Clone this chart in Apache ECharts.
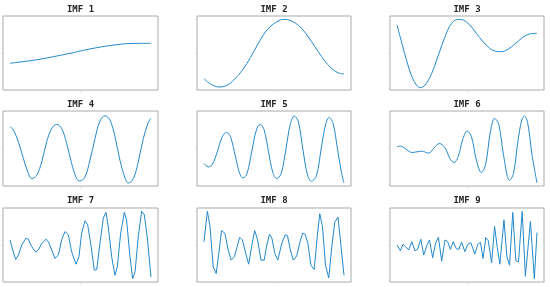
<!DOCTYPE html>
<html>
<head>
<meta charset="utf-8">
<script src="https://cdn.jsdelivr.net/npm/echarts@6/dist/echarts.min.js"></script>
<style>html,body{margin:0;padding:0;background:#fff}#c{width:550px;height:287px}</style>
</head>
<body>
<div id="c"></div>
<script>
const titles = ['IMF 1','IMF 2','IMF 3','IMF 4','IMF 5','IMF 6','IMF 7','IMF 8','IMF 9'];

const imf1 = [[0,-0.279],[7.1,-0.243],[16.5,-0.198],[26,-0.135],[35.5,-0.063],[44.9,0.009],[52,0.072],[61.5,0.144],[68.6,0.189],[75.7,0.225],[82.7,0.252],[92.2,0.261],[100,0.261]];
const imf2 = [[0,-0.694],[4.7,-0.838],[10.6,-0.919],[16.5,-0.874],[21.3,-0.73],[26,-0.532],[30.7,-0.279],[35.5,0.036],[40.2,0.351],[44.9,0.622],[49.6,0.784],[54.4,0.892],[57.9,0.91],[62.6,0.865],[67.4,0.748],[72.1,0.559],[76.8,0.306],[81.6,0.036],[86.3,-0.216],[91,-0.414],[95.7,-0.532],[100,-0.568]];
const imf3 = [[0,0.757],[3.5,0.261],[7.1,-0.234],[10.6,-0.64],[14.2,-0.883],[16.5,-0.937],[20.1,-0.865],[24.8,-0.55],[29.6,-0.054],[34.3,0.441],[39,0.802],[43.7,0.91],[47.3,0.892],[52,0.757],[56.7,0.532],[61.5,0.306],[66.2,0.126],[70.9,0.045],[74.5,0.036],[79.2,0.099],[83.9,0.234],[89.8,0.423],[94.6,0.514],[100,0.532]];
const imf4 = [[0,0.58],[2.4,0.491],[5.9,0.179],[9.5,-0.268],[13,-0.67],[15.4,-0.804],[18.9,-0.714],[22.5,-0.357],[26,0.179],[29.6,0.536],[33.1,0.643],[36.6,0.536],[40.2,0.134],[43.7,-0.402],[47.3,-0.804],[49.6,-0.866],[53.2,-0.759],[56.7,-0.313],[60.3,0.268],[63.8,0.732],[67.4,0.875],[70.9,0.759],[74.5,0.313],[78,-0.313],[81.6,-0.786],[83.9,-0.92],[87.5,-0.804],[91,-0.357],[94.6,0.268],[98.1,0.696],[100,0.804]];
const imf5 = [[0,-0.402],[3.1,-0.491],[5.9,-0.429],[9.5,-0.089],[13,0.313],[16.1,0.429],[18.9,0.313],[22.5,-0.223],[25.5,-0.67],[27.9,-0.786],[30.7,-0.67],[34.3,-0.045],[37.4,0.491],[40.2,0.643],[43,0.491],[46.1,-0.089],[49.2,-0.643],[52,-0.804],[55.1,-0.67],[58.6,0],[61.5,0.625],[64.5,0.866],[67.4,0.714],[70.9,-0.089],[74,-0.714],[76.8,-0.875],[80.4,-0.714],[83.9,0.045],[86.8,0.625],[89.4,0.83],[92.2,0.67],[95.3,0],[98.1,-0.625],[100,-0.92]];
const imf6 = [[0,0.045],[2.4,0.063],[5.9,0],[10.6,-0.107],[14.2,-0.089],[17.7,-0.071],[22.5,-0.125],[26.5,0.018],[30.3,0.134],[34.3,0.018],[37.8,-0.268],[40.7,-0.375],[43.7,-0.223],[46.8,0.223],[50.1,0.464],[53.2,0.313],[56.7,-0.313],[60.3,-0.643],[63.4,-0.402],[66.7,0.446],[69.7,0.804],[72.8,0.625],[76.1,-0.179],[80.4,-0.848],[83.2,-0.67],[86.3,0.179],[89.1,0.759],[91,0.866],[93.4,0.67],[96.5,-0.179],[100,-0.92]];
const imf7 = [[0,0.136],[1.9,-0.136],[4,-0.391],[5.9,-0.273],[8.3,0],[11.3,0.182],[13,0.155],[15.4,-0.045],[18.4,-0.191],[20.1,-0.136],[22.5,0.045],[25.5,0.155],[27.2,0.091],[29.6,-0.136],[31.9,-0.364],[34.3,-0.273],[36.6,0.136],[39,0.364],[41.4,0.273],[43.7,-0.182],[46.8,-0.518],[48.9,-0.318],[50.8,0.318],[53.2,0.655],[55.1,0.545],[57.2,0.045],[59.8,-0.682],[61.5,-0.664],[63.8,0.045],[66.2,0.727],[68.1,0.882],[69.7,0.5],[72.1,-0.318],[74.5,-0.818],[76.1,-0.591],[78.5,0.318],[81.1,0.882],[82.7,0.682],[85.1,-0.318],[87,-0.909],[88.7,-0.727],[91,0.227],[93.4,0.909],[95.3,0.818],[97.6,0.136],[100,-0.864]];
const imf8 = [[0,0.091],[2.4,0.909],[4.3,0.5],[6.6,-0.591],[8.7,-0.773],[10.6,-0.227],[12.5,0.391],[14.9,0.318],[17.3,-0.136],[19.4,-0.409],[21.7,-0.318],[25.5,0.209],[27.4,0.136],[29.8,-0.227],[31.9,-0.518],[34,-0.045],[36.2,0.391],[38.3,0.136],[40.7,-0.409],[43,-0.409],[44.9,0],[46.8,0.291],[48.5,0.182],[50.6,-0.227],[52.7,-0.409],[55.6,0.045],[57.9,0.273],[59.6,0.255],[61.7,-0.136],[63.8,-0.409],[66.2,-0.3],[68.6,0.091],[70.4,0.318],[72.3,0.291],[74.2,0.045],[76.4,-0.545],[78.7,-0.664],[80.9,0.227],[82.7,0.845],[84.6,0.5],[86.8,-0.545],[89.1,-0.891],[91.3,-0.045],[93.4,0.609],[95.7,0.755],[97.9,-0.045],[100,-0.818]];
const imf9 = [[0,0],[2.4,-0.155],[4.3,0.018],[6.1,-0.045],[8.3,-0.136],[10.6,0.091],[12.8,-0.155],[14.7,-0.118],[17,0.155],[19.1,-0.273],[21.3,-0.018],[23.2,0.136],[25.5,-0.345],[27.4,0.027],[29.6,0.209],[31.9,-0.436],[34.3,0.136],[36.2,0.091],[38.1,-0.118],[40.2,0.091],[42.3,-0.1],[44.2,-0.118],[46.1,0.082],[48.5,-0.182],[50.6,0.018],[52.7,0.064],[55.6,-0.245],[57.7,0.018],[59.6,0.073],[61.5,-0.364],[63.4,0.2],[65.2,0.118],[67.6,-0.482],[69.7,0.5],[71.6,-0.064],[73.5,-0.518],[76.4,0.682],[78.5,-0.318],[80.4,-0.545],[82.7,0.882],[84.9,-0.427],[86.8,-0.455],[89.4,0.909],[91.7,-0.845],[95.3,0.636],[98.1,-0.909],[100,0.336]];

const allData = [imf1, imf2, imf3, imf4, imf5, imf6, imf7, imf8, imf9];
const smoothFlags = [true, true, true, true, true, true, false, false, false];

const colLeft = [3, 197, 390];
const colWidth = [155, 154, 154];
const rowTop = [16, 111, 208];
const rowHeight = [74, 75, 74];
const titleTop = [5, 100, 196];

const grids = [], xAxes = [], yAxes = [], series = [], title = [];
for (let i = 0; i < 9; i++) {
  const r = Math.floor(i / 3), c = i % 3;
  grids.push({left: colLeft[c], top: rowTop[r], width: colWidth[c], height: rowHeight[r],
    show: true, borderColor: '#aaaaaa', borderWidth: 1, backgroundColor: 'transparent'});
  xAxes.push({type: 'value', gridIndex: i, min: -5, max: 105,
    axisLine: {show: false, onZero: false}, splitLine: {show: false}, axisLabel: {show: false},
    axisTick: {show: true, customValues: [50], length: 2, lineStyle: {color: '#d8d8d8'}}});
  yAxes.push({type: 'value', gridIndex: i, min: -1, max: 1,
    axisLine: {show: false, onZero: false}, splitLine: {show: false}, axisLabel: {show: false},
    axisTick: {show: true, customValues: [0], length: 2, lineStyle: {color: '#d8d8d8'}}});
  series.push({type: 'line', xAxisIndex: i, yAxisIndex: i, data: allData[i],
    smooth: smoothFlags[i] ? 0.35 : false, showSymbol: false, symbol: 'none',
    lineStyle: {color: '#2288cc', width: 1}, animation: false, silent: true});
  title.push({text: titles[i], left: colLeft[c] + colWidth[c] / 2, top: titleTop[r],
    textAlign: 'center', padding: 0,
    textStyle: {fontFamily: 'DejaVu Sans Mono', fontSize: 9, fontWeight: 'bold', color: '#262626'}});
}

const chart = echarts.init(document.getElementById('c'), null, {renderer: 'canvas'});
chart.setOption({animation: false, title, grid: grids, xAxis: xAxes, yAxis: yAxes, series});
</script>
</body>
</html>
